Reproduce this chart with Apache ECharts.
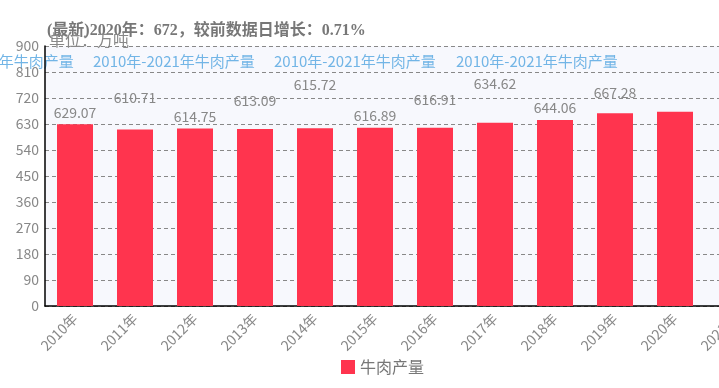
<!DOCTYPE html>
<html>
<head>
<meta charset="utf-8">
<script src="https://cdn.jsdelivr.net/npm/echarts@6/dist/echarts.min.js"></script>
<style>html,body{margin:0;padding:0;background:#fff;overflow:hidden}#c{width:765px;height:388px}</style>
</head>
<body>
<div id="c"></div>
<script>
var categories = ['2010年','2011年','2012年','2013年','2014年','2015年','2016年','2017年','2018年','2019年','2020年','2021年'];
var beefOutput = [629.07, 610.71, 614.75, 613.09, 615.72, 616.89, 616.91, 634.62, 644.06, 667.28, 672, null];
var yTicks = [0, 90, 180, 270, 360, 450, 540, 630, 720, 810, 900];
var titleText = '(最新)2020年：672，较前数据日增长：0.71%';
var unitText = '单位：万吨';
var subText = '2010年-2021年牛肉产量';
var seriesName = '牛肉产量';

// label vertical lift per bar (style only)
var labelLift = [0, -20, 0, -16, -31, 0, -16, -27, 0, -9, null, null];

var chart = echarts.init(document.getElementById('c'), null, {renderer: 'canvas'});
var barData = beefOutput.map(function (v, i) {
  var item = {value: v};
  if (labelLift[i] === null) {
    item.label = {show: false};
  } else {
    item.label = {offset: [0, labelLift[i]]};
  }
  return item;
});

var subTitles = [-88, 93, 274, 456].map(function (x) {
  return {type: 'text', left: x, top: 54, silent: true,
    style: {text: subText, fill: '#72b5e6', font: '15px "Noto Sans CJK SC", sans-serif'}};
});

chart.setOption({
  animation: false,
  backgroundColor: '#ffffff',
  title: [
    {text: titleText, left: 42, top: 18,
     textStyle: {color: '#777', fontSize: 16, fontWeight: 'bold', fontFamily: '"Liberation Serif", "Noto Sans CJK SC", serif'}},
    {text: unitText, left: 44, top: 27,
     textStyle: {color: '#888', fontSize: 16, fontWeight: 'normal', fontFamily: '"Noto Sans CJK SC", sans-serif'}}
  ],
  graphic: subTitles,
  legend: {
    data: [seriesName], bottom: 8, left: 'center',
    itemWidth: 14, itemHeight: 14, icon: 'rect', itemGap: 4,
    textStyle: {color: '#777', fontSize: 16, fontFamily: '"Noto Sans CJK SC", sans-serif'}
  },
  grid: {left: 45, top: 46, right: 0, height: 260, show: true, backgroundColor: '#f7f8fd', borderWidth: 0, containLabel: false},
  xAxis: {
    type: 'category', data: categories,
    axisLine: {lineStyle: {color: '#000', width: 1.5}},
    axisTick: {alignWithLabel: true, length: 4, lineStyle: {color: '#555'}},
    axisLabel: {rotate: 45, color: '#888', fontSize: 14, margin: 10, interval: 0, fontFamily: '"Noto Sans CJK SC", sans-serif'}
  },
  yAxis: {
    type: 'value', min: yTicks[0], max: yTicks[yTicks.length - 1], interval: yTicks[1] - yTicks[0],
    axisLine: {show: true, lineStyle: {color: '#000', width: 1.5}},
    axisTick: {show: false},
    axisLabel: {color: '#888', fontSize: 14, margin: 6, fontFamily: '"Noto Sans CJK SC", sans-serif'},
    splitLine: {lineStyle: {color: '#888', type: [4, 3], width: 1}}
  },
  series: [{
    name: seriesName, type: 'bar', data: barData, barWidth: '60%',
    itemStyle: {color: '#ff344e'},
    label: {show: true, position: 'top', distance: 5, color: '#888', fontSize: 14, fontFamily: '"Noto Sans CJK SC", sans-serif'}
  }]
});
</script>
</body>
</html>
